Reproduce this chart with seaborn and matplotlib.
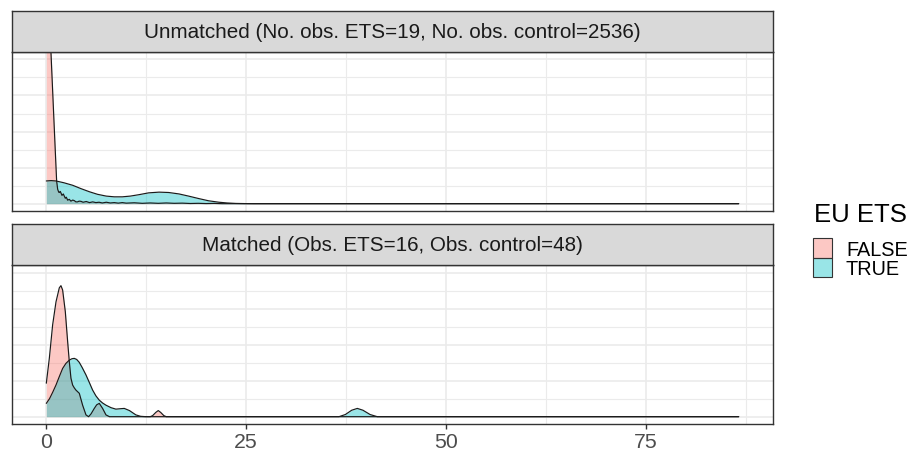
import numpy as np
import pandas as pd
import matplotlib
matplotlib.use("Agg")
import matplotlib.pyplot as plt
import seaborn as sns
from matplotlib.patches import Rectangle

# ---------------- data ----------------
panels = ["Unmatched (No. obs. ETS=19, No. obs. control=2536)",
          "Matched (Obs. ETS=16, Obs. control=48)"]
groups = ["FALSE", "TRUE"]
legend_title = "EU ETS"
x_ticks = [0, 25, 50, 75]
x_tick_labels = ["0", "25", "50", "75"]

# Unmatched, EU ETS = FALSE (estimated density curve)
unm_false_x = [0, 0.25, 0.58, 0.9, 1.1, 1.29, 1.42, 1.55, 1.625, 1.75, 1.96, 2.125,
               2.375, 2.5, 2.67, 2.875, 3.08, 3.3, 3.5, 3.7, 3.9, 4.1, 4.33, 4.6,
               5.0, 5.4, 5.8, 6.2, 6.6, 7.0, 7.5, 8.0, 8.5, 9.0, 9.5, 10, 11, 12,
               13, 14, 15, 16, 17, 18, 19, 20, 21, 22, 86.6]
unm_false_d = [0.95, 0.68, 0.42, 0.258, 0.157, 0.063, 0.040, 0.032, 0.031, 0.034,
               0.023, 0.027, 0.015, 0.018, 0.0097, 0.012, 0.007, 0.010, 0.0085,
               0.005, 0.005, 0.007, 0.0065, 0.004, 0.006, 0.003, 0.005, 0.003,
               0.004, 0.002, 0.004, 0.002, 0.003, 0.0015, 0.003, 0.0015, 0.0025,
               0.001, 0.002, 0.001, 0.002, 0.001, 0.0015, 0.0005, 0.001, 0.0003,
               0.0008, 0.0, 0.0]

# Unmatched, EU ETS = TRUE
unm_true_x = [0, 0.6, 1.2, 2.2, 3.3, 4.3, 5.4, 6.4, 7.5, 8.5, 9.5, 10.5, 11.6,
              12.8, 14.1, 15.3, 16.6, 17.8, 19.1, 20.3, 21.6, 22.6, 23.7, 25, 26,
              86.6]
unm_true_d = [0.063, 0.064, 0.063, 0.058, 0.051, 0.042, 0.033, 0.026, 0.021,
              0.019, 0.019, 0.021, 0.025, 0.030, 0.032, 0.031, 0.027, 0.021,
              0.014, 0.008, 0.004, 0.002, 0.0007, 0.0002, 0.0, 0.0]

# Matched, EU ETS = FALSE
mat_false_x = [0, 0.375, 0.79, 1.21, 1.625, 1.83, 2.04, 2.375, 2.67, 2.875, 3.08,
               3.29, 3.5, 3.7, 4.125, 4.54, 4.96, 5.29, 5.6, 6.0, 6.3, 6.625,
               7.04, 7.46, 7.9, 13.0, 13.3, 13.7, 14.0, 14.3, 14.7, 15.0, 86.6]
mat_false_d = [0.093, 0.162, 0.255, 0.319, 0.358, 0.364, 0.352, 0.292, 0.208,
               0.153, 0.107, 0.088, 0.080, 0.074, 0.065, 0.032, 0.005, 0.0,
               0.008, 0.023, 0.033, 0.037, 0.023, 0.005, 0.0, 0.0, 0.003, 0.012,
               0.017, 0.012, 0.003, 0.0, 0.0]

# Matched, EU ETS = TRUE
mat_true_x = [0, 0.4, 0.8, 1.21, 1.6, 2.04, 2.45, 2.87, 3.2, 3.5, 3.8, 4.12, 4.5,
              4.96, 5.4, 5.79, 6.2, 6.62, 7.04, 7.46, 8.1, 8.7, 9.2, 9.75, 10.4,
              10.8, 11.2, 11.8, 12.5, 36.6, 37.4, 38.2, 38.9, 39.6, 40.5, 41.4,
              86.6]
mat_true_d = [0.037, 0.050, 0.068, 0.088, 0.110, 0.134, 0.148, 0.157, 0.161,
              0.162, 0.159, 0.151, 0.136, 0.116, 0.094, 0.074, 0.058, 0.046,
              0.038, 0.032, 0.025, 0.021, 0.022, 0.023, 0.017, 0.011, 0.005,
              0.001, 0.0, 0.0, 0.006, 0.018, 0.023, 0.018, 0.006, 0.0, 0.0]

# ---------------- build long table ----------------
frames = []
for p, g, xs, ds in [(panels[0], "FALSE", unm_false_x, unm_false_d),
                     (panels[0], "TRUE", unm_true_x, unm_true_d),
                     (panels[1], "FALSE", mat_false_x, mat_false_d),
                     (panels[1], "TRUE", mat_true_x, mat_true_d)]:
    frames.append(pd.DataFrame({"panel": p, "group": g, "x": xs, "density": ds}))
df = pd.concat(frames, ignore_index=True)

# ---------------- style ----------------
sns.set_theme(style="white")
plt.rcParams["font.family"] = ["Liberation Sans", "DejaVu Sans"]

fill_colors = {"FALSE": "#F8766D", "TRUE": "#00BFC4"}
grid_col = "#EBEBEB"
dark = "#333333"

W, H = 914, 458
fig = plt.figure(figsize=(W / 100, H / 100), dpi=100)


def fx(px):
    return px / W


def fy(py):
    return 1 - py / H


left_px, right_px = 11.7, 773.3
layout = [  # (strip_top, strip_bottom, panel_bottom)
    (11.0, 51.7, 211.0),
    (224.3, 265.0, 424.0),
]

xlim = (-4.33, 90.93)
ylim = (-0.0203, 0.4214)

for i, (st, sb, pb) in enumerate(layout):
    # panel
    ax = fig.add_axes([fx(left_px), fy(pb), fx(right_px - left_px), (pb - sb) / H])
    ax.set_facecolor("white")
    ax.set_xlim(*xlim)
    ax.set_ylim(*ylim)
    ax.set_xticks(x_ticks)
    ax.set_xticks([12.5, 37.5, 62.5, 87.5], minor=True)
    ax.set_yticks([0, 0.1, 0.2, 0.3, 0.4])
    ax.set_yticks([0.05, 0.15, 0.25, 0.35], minor=True)
    ax.grid(which="major", color=grid_col, lw=1.2, zorder=0)
    ax.grid(which="minor", color=grid_col, lw=0.8, zorder=0)
    ax.set_axisbelow(True)

    sub = df[df["panel"] == panels[i]]
    for g in groups:
        gd = sub[sub["group"] == g]
        ax.fill_between(gd["x"].to_numpy(), gd["density"].to_numpy(), 0,
                        color=fill_colors[g], alpha=0.4, lw=0, zorder=2)
        sns.lineplot(data=gd, x="x", y="density", color="#1A1A1A", lw=0.85,
                     sort=False, estimator=None, ax=ax, legend=False, zorder=3)
    ax.set_xlabel("")
    ax.set_ylabel("")
    ax.tick_params(axis="y", which="both", left=False, labelleft=False)
    if i == 0:
        ax.tick_params(axis="x", which="both", bottom=False, labelbottom=False)
    else:
        ax.tick_params(axis="x", which="major", bottom=True, length=3.8,
                       width=1.0, color=dark, labelsize=15.3,
                       labelcolor="#4D4D4D", pad=3)
        ax.set_xticklabels(x_tick_labels)
        ax.tick_params(axis="x", which="minor", bottom=False)
    for s in ax.spines.values():
        s.set_color(dark)
        s.set_linewidth(1.0)
        s.set_visible(True)

    # strip
    sax = fig.add_axes([fx(left_px), fy(sb), fx(right_px - left_px), (sb - st) / H])
    sax.set_facecolor("#D9D9D9")
    sax.set_xticks([])
    sax.set_yticks([])
    for s in sax.spines.values():
        s.set_color(dark)
        s.set_linewidth(1.0)
        s.set_visible(True)
    sax.text(0.5, 0.47, panels[i], ha="center", va="center", fontsize=14.9,
             color="#1A1A1A", transform=sax.transAxes)

# legend (title + keys + labels)
fig.text(fx(814), fy(221.7), legend_title, ha="left", va="baseline",
         fontsize=18.5, color="#000000")
key_top = 238.3
key_h = 19.5
for k, g in enumerate(groups):
    y0 = key_top + k * key_h
    fig.patches.append(Rectangle((fx(813.3), fy(y0 + key_h)), fx(18.4), key_h / H,
                                 transform=fig.transFigure, facecolor="white",
                                 edgecolor="none", zorder=1))
    fig.patches.append(Rectangle((fx(813.3), fy(y0 + key_h)), fx(18.4), key_h / H,
                                 transform=fig.transFigure,
                                 facecolor=fill_colors[g], alpha=0.4,
                                 edgecolor="none", zorder=2))
    fig.patches.append(Rectangle((fx(813.3), fy(y0 + key_h)), fx(18.4), key_h / H,
                                 transform=fig.transFigure, facecolor="none",
                                 edgecolor=dark, lw=0.8, zorder=3))
    fig.text(fx(846), fy(y0 + 17.4), g, ha="left", va="baseline",
             fontsize=14.3, color="#000000")

fig.savefig("out.png", dpi=100)
